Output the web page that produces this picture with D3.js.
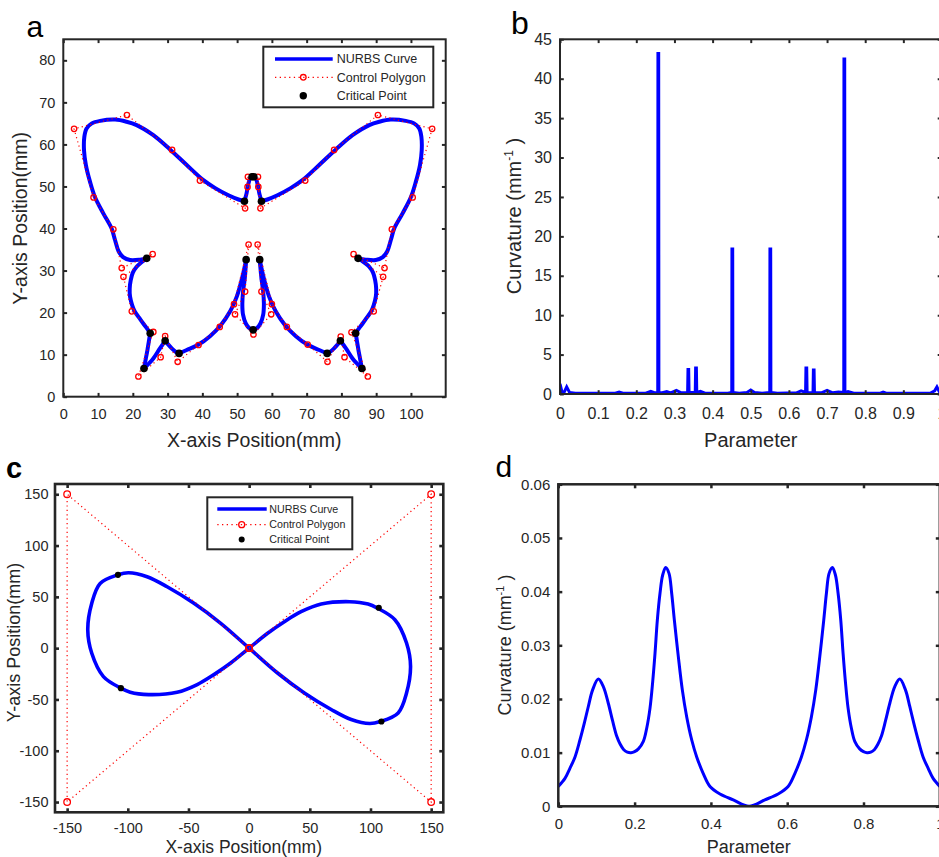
<!DOCTYPE html>
<html>
<head>
<meta charset="utf-8">
<script src="https://cdn.jsdelivr.net/npm/d3@7"></script>
<style>
  body { margin: 0; background: #fff; }
  svg { display: block; }
</style>
</head>
<body>
<svg id="fig" width="939" height="857"></svg>
<script>
// ---------- Panel a: butterfly NURBS contour (mm) ----------
// Curve pieces between sharp corners.
const wingSegments = [
  [[52.1,46.5],[52.7,48.3],[53.2,50.5],[53.8,52.0],[54.5,52.4],[55.3,52.0],[55.9,50.5],[56.4,48.3],[57.0,46.5]],
  [[52.1,46.5],[50.4,46.9],[47.5,47.9],[43.7,49.6],[40.3,51.5],[35.5,55.1],[30.7,58.8],[25.9,62.2],[21.1,64.6],[18.2,65.4],[14.9,65.9],[10.6,65.6],[8.2,65.0],[6.7,63.8],[6.05,61.8],[5.96,58.6],[6.5,55.1],[7.7,51.1],[9.1,47.5],[11.5,43.6],[13.9,40.0],[14.9,37.2],[15.9,34.6],[17.2,33.2],[19.2,32.5],[22.1,32.6],[24.0,32.9]],
  [[24.0,32.9],[22.4,31.9],[21.1,30.9],[20.0,29.5],[19.4,27.7],[19.1,25.7],[19.2,23.8],[19.8,21.8],[20.6,20.2],[21.8,18.8],[23.0,17.4],[24.0,16.3],[25.0,15.1]],
  [[25.0,15.1],[24.6,13.1],[24.2,11.1],[23.7,8.9],[23.2,6.7]],
  [[23.2,6.7],[24.5,7.8],[25.9,9.1],[27.8,11.5],[29.3,13.3]],
  [[29.3,13.3],[30.2,12.4],[31.2,11.5],[32.3,10.7],[33.3,10.3]],
  [[33.3,10.3],[35.5,11.1],[38.9,12.4],[42.2,14.4],[45.3,17.0],[48.0,20.3],[49.9,23.8],[51.4,28.1],[52.6,32.6]],
  [[52.6,32.6],[52.2,28.1],[51.7,25.0],[51.5,22.0],[51.7,19.5],[52.5,17.4],[53.5,16.3],[54.6,15.9],[55.7,16.3],[56.7,17.4],[57.5,19.5],[57.7,22.0],[57.5,25.0],[57.0,28.1],[56.5,32.6]],
  [[56.5,32.6],[57.7,28.1],[59.2,23.8],[61.1,20.3],[63.8,17.0],[66.9,14.4],[70.2,12.4],[73.6,11.1],[75.9,10.3]],
  [[75.9,10.3],[76.8,10.7],[77.9,11.5],[78.9,12.4],[79.7,13.3]],
  [[79.7,13.3],[81.3,11.5],[83.2,9.1],[84.6,7.8],[85.9,6.7]],
  [[85.9,6.7],[85.4,8.9],[84.9,11.1],[84.5,13.1],[84.1,15.1]],
  [[84.1,15.1],[85.1,16.3],[86.1,17.4],[87.3,18.8],[88.5,20.2],[89.3,21.8],[89.9,23.8],[90.0,25.7],[89.7,27.7],[89.1,29.5],[88.0,30.9],[86.6,31.9],[84.8,32.9]],
  [[84.8,32.9],[87.0,32.6],[89.9,32.5],[91.9,33.2],[93.2,34.6],[94.2,37.2],[95.2,40.0],[97.6,43.6],[100.0,47.5],[101.4,51.1],[102.6,55.1],[103.1,58.6],[103.0,61.8],[102.4,63.8],[100.9,65.0],[98.5,65.6],[94.2,65.9],[90.9,65.4],[88.0,64.6],[83.2,62.2],[78.4,58.8],[73.6,55.1],[68.8,51.5],[65.4,49.6],[61.6,47.9],[58.7,46.9],[57.0,46.5]]
];

// Control polygon vertices, in order
const wingControl = [
  [53.1,52.3],[53.0,49.9],[52.3,44.8],[39.3,51.4],[31.3,58.7],[18.3,67.0],[3.1,63.7],[8.7,47.4],
  [14.4,39.8],[16.8,30.6],[25.7,33.9],[17.3,28.5],[19.7,20.3],[25.9,15.4],[21.6,4.8],[28.0,9.4],
  [29.3,14.4],[32.9,8.3],[38.9,12.3],[45.0,16.6],[49.1,22.0],[53.3,36.2],[52.3,25.0],[49.4,19.6],
  [54.7,14.8],[59.8,19.6],[57.0,25.0],[55.9,36.2],[60.0,22.0],[64.3,16.6],[70.3,12.4],[76.0,8.3],
  [79.8,14.3],[80.9,9.4],[87.6,4.8],[82.9,15.3],[89.3,20.3],[92.0,28.5],[83.5,33.9],[92.4,30.6],
  [94.5,39.8],[100.5,47.4],[106.1,63.7],[90.5,67.0],[77.9,58.7],[69.6,51.4],[56.7,44.8],[56.1,49.9],
  [56.0,52.3],[53.1,52.3]
];

// Critical points (corners) of the contour
const wingCritical = [
  [54.3,52.3],[54.8,52.3],[52.1,46.5],[57.0,46.5],[24.0,32.9],[84.8,32.9],[52.6,32.6],[56.5,32.6],
  [54.6,15.9],[25.0,15.1],[84.1,15.1],[23.2,6.7],[85.9,6.7],[29.3,13.3],[79.7,13.3],[33.3,10.3],[75.9,10.3]
];

const aXTicks = [0,10,20,30,40,50,60,70,80,90,100];
const aXLabels = ["0","10","20","30","40","50","60","70","80","90","100"];
const aYTicks = [0,10,20,30,40,50,60,70,80];
const aYLabels = ["0","10","20","30","40","50","60","70","80"];

// ---------- Panel b: curvature along the butterfly contour ----------
const bParam = [0,0.005,0.011,0.0175,0.025,0.04,0.10,0.145,0.155,0.165,0.225,0.238,0.249,0.2562,0.2567,0.2587,0.2592,0.268,0.28,0.29,0.305,0.318,0.3345,0.3355,0.3373,0.3383,0.3545,0.3555,0.3575,0.3585,0.368,0.38,0.44,0.4502,0.4507,0.4527,0.4532,0.47,0.49,0.50,0.51,0.53,0.5498,0.5503,0.5523,0.5528,0.57,0.62,0.632,0.6437,0.6447,0.6467,0.6477,0.656,0.6632,0.6642,0.6660,0.6670,0.685,0.70,0.715,0.73,0.7438,0.7443,0.7463,0.7468,0.755,0.77,0.84,0.847,0.855,0.97,0.982,0.988,0.994,1.0];
const bCurv = [1.3,0.3,0.25,0.9,0.2,0.1,0.1,0.1,0.25,0.1,0.1,0.35,0.15,0.2,43.2,43.2,0.2,0.15,0.3,0.15,0.45,0.15,0.2,3.1,3.1,0.2,0.2,3.3,3.3,0.2,0.35,0.1,0.1,0.2,18.4,18.4,0.2,0.1,0.2,0.5,0.2,0.1,0.2,18.4,18.4,0.2,0.1,0.15,0.4,0.2,3.3,3.3,0.2,0.15,0.2,3.05,3.05,0.2,0.15,0.45,0.15,0.25,0.2,42.5,42.5,0.2,0.3,0.1,0.1,0.25,0.1,0.1,0.4,0.9,0.3,0.2];
const bXTicks = [0,0.1,0.2,0.3,0.4,0.5,0.6,0.7,0.8,0.9,1];
const bXLabels = ["0","0.1","0.2","0.3","0.4","0.5","0.6","0.7","0.8","0.9","1"];
const bYTicks = [0,5,10,15,20,25,30,35,40,45];
const bYLabels = ["0","5","10","15","20","25","30","35","40","45"];

// ---------- Panel c: figure-eight NURBS curve (mm) ----------
const eightCurve = [
  [0,0],[15.2,14.5],[29.0,25.8],[42.8,35.5],[59.4,43.0],[82.8,45.3],[98.0,43.0],[105.7,39.0],[120.1,27.7],
  [129.7,5.0],[133.0,-17.7],[129.7,-43.7],[122.8,-63.1],[108.1,-71.5],[99.4,-73.5],[84.1,-69.6],
  [67.6,-59.8],[45.5,-43.7],[23.4,-24.2],[0,0],[-23.4,24.2],[-45.5,43.7],[-67.6,59.8],[-84.1,69.6],
  [-99.4,73.5],[-108.1,71.5],[-122.8,63.1],[-129.7,43.7],[-133.0,17.7],[-129.7,-5.0],[-120.1,-27.7],
  [-105.7,-39.0],[-98.0,-43.0],[-82.8,-45.3],[-59.4,-43.0],[-42.8,-35.5],[-29.0,-25.8],[-15.2,-14.5]
];
const eightControl = [[0,0],[150,150],[150,-150],[0,0],[-150,150],[-150,-150],[0,0]];
const eightCritical = [[-108.1,71.5],[-105.7,-39.0],[106.8,39.4],[109.0,-71.5]];
const cTicks = [-150,-100,-50,0,50,100,150];
const cLabels = ["-150","-100","-50","0","50","100","150"];

// ---------- Panel d: curvature along the figure-eight ----------
const dParam = [0,0.0175,0.0307,0.0438,0.0569,0.0682,0.0787,0.090,0.1049,0.118,0.131,0.1424,0.153,0.162,0.171,0.181,0.1906,0.200,0.210,0.2229,0.2316,0.2404,0.2474,0.2535,0.2596,0.2666,0.2736,0.2815,0.2902,0.2972,0.3042,0.3146,0.3251,0.3365,0.3496,0.3628,0.380,0.3976,0.4238,0.4587,0.5,
  0.5413,0.5762,0.6024,0.620,0.6372,0.6504,0.6635,0.6749,0.6854,0.6958,0.7028,0.7098,0.7185,0.7264,0.7334,0.7404,0.7465,0.7526,0.7596,0.7684,0.7771,0.790,0.800,0.8094,0.819,0.829,0.838,0.847,0.8576,0.869,0.882,0.8951,0.910,0.9213,0.9318,0.9431,0.9562,0.9693,0.9825,1.0];
const dCurv = [0.0037,0.0052,0.0071,0.0092,0.0124,0.0155,0.0186,0.0217,0.0237,0.0223,0.0192,0.0159,0.0131,0.0116,0.0106,0.0101,0.0100,0.0102,0.0107,0.0121,0.0145,0.0183,0.0232,0.0285,0.0347,0.0397,0.0431,0.0445,0.0434,0.0397,0.0347,0.0279,0.0217,0.0167,0.0124,0.0092,0.0061,0.0037,0.0023,0.0012,0.0000,
  0.0012,0.0023,0.0037,0.0061,0.0092,0.0124,0.0167,0.0217,0.0279,0.0347,0.0397,0.0434,0.0445,0.0431,0.0397,0.0347,0.0285,0.0232,0.0183,0.0145,0.0121,0.0107,0.0102,0.0100,0.0101,0.0106,0.0116,0.0131,0.0159,0.0192,0.0223,0.0237,0.0217,0.0186,0.0155,0.0124,0.0092,0.0071,0.0052,0.0037];
const dXTicks = [0,0.2,0.4,0.6,0.8,1];
const dXLabels = ["0","0.2","0.4","0.6","0.8","1"];
const dYTicks = [0,0.01,0.02,0.03,0.04,0.05,0.06];
const dYLabels = ["0","0.01","0.02","0.03","0.04","0.05","0.06"];

const legendNames = ["NURBS Curve","Control Polygon","Critical Point"];

// ---------- drawing ----------
const FONT = "'Liberation Sans', Arial, Helvetica, sans-serif";
const INK = "#262626", BLUE = "#0000ff", RED = "#ff0000";
const svg = d3.select("#fig");

function makePanel(p) {
  const w = p.right - p.left, h = p.bottom - p.top;
  const g = svg.append("g").attr("transform", `translate(${p.left},${p.top})`);
  const x = d3.scaleLinear().domain(p.xDomain).range([0, w]);
  const y = d3.scaleLinear().domain(p.yDomain).range([h, 0]);
  const id = "clip-" + p.name;
  g.append("clipPath").attr("id", id).append("rect").attr("width", w).attr("height", h);
  const plot = g.append("g").attr("clip-path", `url(#${id})`);
  return { g, plot, x, y, w, h, p };
}

function finishAxes(P) {
  const { g, x, y, w, h, p } = P;
  const tl = p.tickLen;
  const style = sel => {
    sel.select(".domain").remove();
    sel.selectAll(".tick line").attr("stroke", INK).attr("stroke-width", p.lw);
    sel.selectAll("text").attr("fill", INK).style("font-size", p.tickFont + "px").style("font-family", FONT);
  };
  g.append("g").attr("transform", `translate(0,${h})`)
    .call(d3.axisBottom(x).tickValues(p.xTicks).tickFormat((d, i) => p.xLabels[i]).tickSizeInner(-tl).tickSizeOuter(0).tickPadding(p.xPad))
    .call(style);
  g.append("g")
    .call(d3.axisTop(x).tickValues(p.xTicks).tickFormat("").tickSizeInner(-tl).tickSizeOuter(0))
    .call(style);
  g.append("g")
    .call(d3.axisLeft(y).tickValues(p.yTicks).tickFormat((d, i) => p.yLabels[i]).tickSizeInner(-tl).tickSizeOuter(0).tickPadding(p.yPad))
    .call(style);
  g.append("g").attr("transform", `translate(${w},0)`)
    .call(d3.axisRight(y).tickValues(p.yTicks).tickFormat("").tickSizeInner(-tl).tickSizeOuter(0))
    .call(style);
  g.append("rect").attr("width", w).attr("height", h)
    .attr("fill", "none").attr("stroke", INK).attr("stroke-width", p.lw);
}

function addText(x, y, str, size, opts = {}) {
  const t = svg.append("text").attr("x", x).attr("y", y).text(str)
    .attr("fill", opts.fill || INK).style("font-family", FONT).style("font-size", size + "px")
    .attr("text-anchor", opts.anchor || "start");
  if (opts.bold) t.style("font-weight", "bold");
  return t;
}

function yTitle(bx, cy, size, parts) {
  const t = svg.append("text").attr("transform", `translate(${bx},${cy}) rotate(-90)`)
    .attr("text-anchor", "middle").attr("fill", INK)
    .style("font-family", FONT).style("font-size", size + "px");
  parts(t, size);
}
const plainTitle = s => (t) => t.text(s);
const curvTitle = (t, size) => {
  const sup = Math.round(size * 0.62), lift = size * 0.42;
  t.append("tspan").text("Curvature (mm");
  t.append("tspan").attr("dy", -lift).style("font-size", sup + "px").text("-1");
  t.append("tspan").attr("dy", lift).text(" )");
};

function legend(box, rows, fs, lineW, ctrlR, critR) {
  svg.append("rect").attr("x", box.x).attr("y", box.y).attr("width", box.w).attr("height", box.h)
    .attr("fill", "#fff").attr("stroke", INK).attr("stroke-width", 2);
  svg.append("line").attr("x1", box.lx1).attr("x2", box.lx2).attr("y1", rows[0]).attr("y2", rows[0])
    .attr("stroke", BLUE).attr("stroke-width", lineW);
  svg.append("line").attr("x1", box.lx1).attr("x2", box.lx2).attr("y1", rows[1]).attr("y2", rows[1])
    .attr("stroke", RED).attr("stroke-width", 1.3).attr("stroke-dasharray", "1.3,3.4");
  svg.append("circle").attr("cx", box.mx).attr("cy", rows[1]).attr("r", ctrlR)
    .attr("fill", "none").attr("stroke", RED).attr("stroke-width", 1.3);
  svg.append("circle").attr("cx", box.mx).attr("cy", rows[2]).attr("r", critR).attr("fill", "#000");
  legendNames.forEach((n, i) => addText(box.tx, rows[i], n, fs).attr("dy", "0.35em"));
}

// ===== Panel a =====
const A = makePanel({ name: "a", left: 63.3, right: 445.7, top: 39.3, bottom: 396.7,
  xDomain: [0, 110], yDomain: [0, 85], xTicks: aXTicks, xLabels: aXLabels, yTicks: aYTicks, yLabels: aYLabels,
  tickLen: 3.8, lw: 2, tickFont: 14.5, xPad: 12.3, yPad: 8 });
{
  const line = d3.line().x(d => A.x(d[0])).y(d => A.y(d[1])).curve(d3.curveCatmullRom.alpha(0.5));
  A.plot.selectAll("path.seg").data(wingSegments).join("path").attr("class", "seg")
    .attr("d", line).attr("fill", "none").attr("stroke", BLUE).attr("stroke-width", 4)
    .attr("stroke-linecap", "round").attr("stroke-linejoin", "round");
  const poly = d3.line().x(d => A.x(d[0])).y(d => A.y(d[1]));
  A.plot.append("path").attr("d", poly(wingControl)).attr("fill", "none")
    .attr("stroke", RED).attr("stroke-width", 1.2).attr("stroke-dasharray", "1.2,3.2");
  A.plot.selectAll("circle.ctrl").data(wingControl.slice(0, -1)).join("circle").attr("class", "ctrl")
    .attr("cx", d => A.x(d[0])).attr("cy", d => A.y(d[1])).attr("r", 2.7)
    .attr("fill", "none").attr("stroke", RED).attr("stroke-width", 1.3);
  A.plot.selectAll("circle.crit").data(wingCritical).join("circle").attr("class", "crit")
    .attr("cx", d => A.x(d[0])).attr("cy", d => A.y(d[1])).attr("r", 3.8).attr("fill", "#000");
}
finishAxes(A);
legend({ x: 263.3, y: 46.7, w: 170, h: 60.6, lx1: 275, lx2: 332.7, mx: 303.3, tx: 336.7 },
  [59, 77.3, 95.7], 12.5, 3.5, 2.8, 3.7);
addText(26.5, 36.5, "a", 30, { fill: "#000" });
yTitle(27.3, 218.3, 19.5, plainTitle("Y-axis Position(mm)"));
addText(254.2, 447, "X-axis Position(mm)", 19.5, { anchor: "middle" });

// ===== Panel b =====
const B = makePanel({ name: "b", left: 560, right: 941.5, top: 39.3, bottom: 394,
  xDomain: [0, 1], yDomain: [0, 45], xTicks: bXTicks, xLabels: bXLabels, yTicks: bYTicks, yLabels: bYLabels,
  tickLen: 3.8, lw: 2, tickFont: 16, xPad: 13.5, yPad: 8 });
{
  const pts = bParam.map((p, i) => [p, bCurv[i]]);
  const line = d3.line().x(d => B.x(d[0])).y(d => B.y(d[1]));
  B.plot.append("path").attr("d", line(pts)).attr("fill", "none").attr("stroke", BLUE)
    .attr("stroke-width", 3).attr("stroke-linejoin", "miter").attr("stroke-miterlimit", 10);
}
finishAxes(B);
addText(511, 34.3, "b", 32, { fill: "#000" });
yTitle(521, 216, 20, curvTitle);
addText(750.8, 447, "Parameter", 20, { anchor: "middle" });

// ===== Panel c =====
const C = makePanel({ name: "c", left: 55, right: 443.3, top: 484, bottom: 812.3,
  xDomain: [-160, 160], yDomain: [-160, 160], xTicks: cTicks, xLabels: cLabels, yTicks: cTicks, yLabels: cLabels,
  tickLen: 4, lw: 2.6, tickFont: 14.5, xPad: 10.5, yPad: 6.5 });
{
  const line = d3.line().x(d => C.x(d[0])).y(d => C.y(d[1])).curve(d3.curveCatmullRomClosed.alpha(0.5));
  C.plot.append("path").attr("d", line(eightCurve)).attr("fill", "none").attr("stroke", BLUE)
    .attr("stroke-width", 3.6).attr("stroke-linejoin", "round");
  const poly = d3.line().x(d => C.x(d[0])).y(d => C.y(d[1]));
  C.plot.append("path").attr("d", poly(eightControl)).attr("fill", "none")
    .attr("stroke", RED).attr("stroke-width", 1.2).attr("stroke-dasharray", "1.2,3.2");
  C.plot.selectAll("circle.ctrl").data(eightControl).join("circle").attr("class", "ctrl")
    .attr("cx", d => C.x(d[0])).attr("cy", d => C.y(d[1])).attr("r", 3.3)
    .attr("fill", "none").attr("stroke", RED).attr("stroke-width", 1.3);
  C.plot.selectAll("circle.crit").data(eightCritical).join("circle").attr("class", "crit")
    .attr("cx", d => C.x(d[0])).attr("cy", d => C.y(d[1])).attr("r", 3.1).attr("fill", "#000");
}
finishAxes(C);
legend({ x: 207.3, y: 497.3, w: 145, h: 52, lx1: 217.3, lx2: 266.7, mx: 241.7, tx: 269.3 },
  [509, 524.7, 539.5], 10.7, 3.5, 3, 3);
addText(6, 478.3, "c", 29, { fill: "#000", bold: true });
yTitle(20.2, 642.5, 18, plainTitle("Y-axis Position(mm)"));
addText(243.7, 852.5, "X-axis Position(mm)", 17.5, { anchor: "middle" });

// ===== Panel d =====
const D = makePanel({ name: "d", left: 558.3, right: 939.8, top: 484.3, bottom: 806.3,
  xDomain: [0, 1], yDomain: [0, 0.06], xTicks: dXTicks, xLabels: dXLabels, yTicks: dYTicks, yLabels: dYLabels,
  tickLen: 4, lw: 2.5, tickFont: 15, xPad: 12.5, yPad: 8 });
{
  const pts = dParam.map((p, i) => [p, dCurv[i]]);
  const line = d3.line().x(d => D.x(d[0])).y(d => D.y(d[1])).curve(d3.curveCatmullRom.alpha(0.5));
  D.plot.append("path").attr("d", line(pts)).attr("fill", "none").attr("stroke", BLUE)
    .attr("stroke-width", 3).attr("stroke-linejoin", "round");
}
finishAxes(D);
addText(495.5, 477.3, "d", 30, { fill: "#000" });
yTitle(511.2, 645, 18, curvTitle);
addText(748.7, 852.5, "Parameter", 18, { anchor: "middle" });
</script>
</body>
</html>
